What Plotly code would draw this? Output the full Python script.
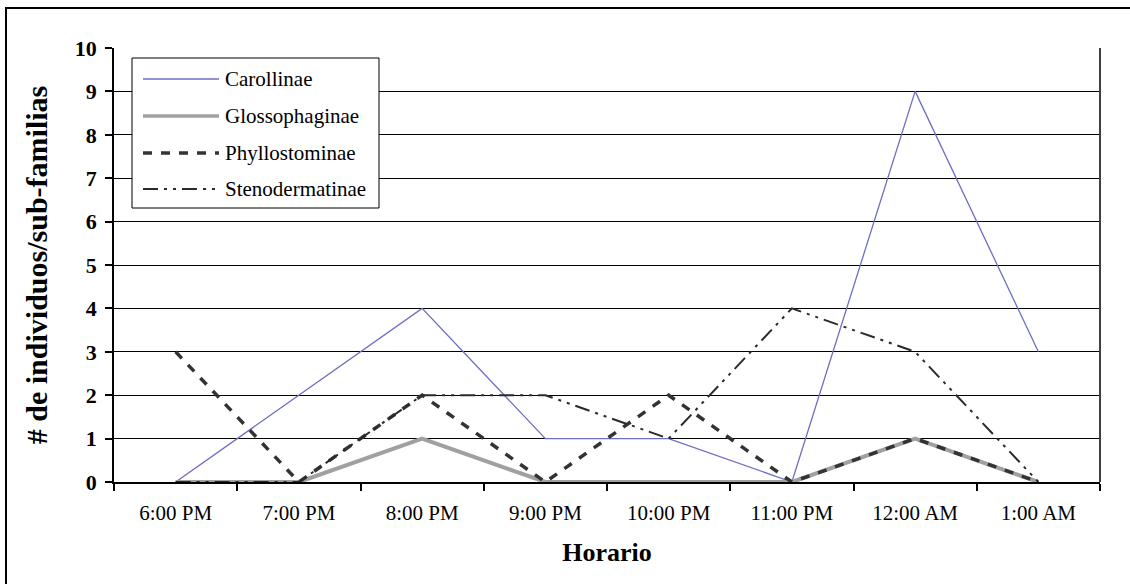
import plotly.graph_objects as go

# Hourly captures per sub-family
horario = ["6:00 PM", "7:00 PM", "8:00 PM", "9:00 PM", "10:00 PM", "11:00 PM", "12:00 AM", "1:00 AM"]
carollinae = [0, 2, 4, 1, 1, 0, 9, 3]
glossophaginae = [0, 0, 1, 0, 0, 0, 1, 0]
phyllostominae = [3, 0, 2, 0, 2, 0, 1, 0]
stenodermatinae = [0, 0, 2, 2, 1, 4, 3, 0]

series = [
    ("Carollinae", carollinae, dict(color="#6E6EC4", width=1.3, dash="solid")),
    ("Glossophaginae", glossophaginae, dict(color="#A0A0A0", width=4, dash="solid")),
    ("Phyllostominae", phyllostominae, dict(color="#333333", width=3.5, dash="9px,9px")),
    ("Stenodermatinae", stenodermatinae, dict(color="#2A2A2A", width=2, dash="15px,6px,3px,6px,3px,6px")),
]

SERIF = "Liberation Serif, serif"

fig = go.Figure()
for name, vals, line in series:
    fig.add_trace(go.Scatter(
        x=horario, y=vals, name=name, mode="lines",
        line=line, showlegend=False, hoverinfo="x+y+name",
    ))

# Plot area geometry in pixels (used to place the legend box in paper units)
W, H = 1130, 584
L, R, T, B = 114, 30, 48, 102
pw, ph = W - L - R, H - T - B


def px_x(x):
    return (x - L) / pw


def px_y(y):
    return (H - B - y) / ph


shapes = []
annotations = []

# Outer chart frame
shapes.append(dict(type="rect", xref="paper", yref="paper",
                   x0=px_x(6), x1=px_x(1140), y0=px_y(8), y1=px_y(600),
                   line=dict(color="#000000", width=2), fillcolor="rgba(0,0,0,0)", layer="below"))
# Right edge of the plot area
shapes.append(dict(type="line", xref="paper", yref="paper", x0=1, x1=1, y0=0, y1=1,
                   line=dict(color="#404040", width=2)))

# Legend box with sample lines
shapes.append(dict(type="rect", xref="paper", yref="paper",
                   x0=px_x(132), x1=px_x(379), y0=px_y(58), y1=px_y(208),
                   line=dict(color="#000000", width=1), fillcolor="#FFFFFF", layer="above"))
row_y = [79, 116, 153, 189]
for (name, _, line), ry in zip(series, row_y):
    shapes.append(dict(type="line", xref="paper", yref="paper",
                       x0=px_x(143), x1=px_x(219), y0=px_y(ry), y1=px_y(ry),
                       line=dict(color=line["color"], width=min(line["width"], 3.5), dash=line["dash"]),
                       layer="above"))
    annotations.append(dict(xref="paper", yref="paper", x=px_x(223), y=px_y(ry),
                            text=name, showarrow=False, xanchor="left", yanchor="middle",
                            font=dict(family=SERIF, size=21, color="#000000")))

fig.update_layout(
    width=W, height=H,
    margin=dict(l=L, r=R, t=T, b=B, autoexpand=False),
    paper_bgcolor="#FFFFFF", plot_bgcolor="#FFFFFF",
    showlegend=False,
    shapes=shapes, annotations=annotations,
    font=dict(family=SERIF, color="#000000"),
    xaxis=dict(
        type="category", range=[-0.5, 7.5], tickson="boundaries",
        ticks="outside", ticklen=7, tickcolor="#000000", tickwidth=1.5,
        showline=True, linecolor="#000000", linewidth=1.5,
        showgrid=False, zeroline=False, ticklabelstandoff=11,
        tickfont=dict(family=SERIF, size=21, color="#000000"),
        title=dict(text="<b>Horario</b>", font=dict(family=SERIF, size=26, color="#000000"), standoff=19),
    ),
    yaxis=dict(
        range=[0, 10], dtick=1, tick0=0,
        ticks="outside", ticklen=7, tickcolor="#000000", tickwidth=1.5,
        showline=True, linecolor="#000000", linewidth=1.5,
        showgrid=True, gridcolor="#000000", gridwidth=1.3, zeroline=False,
        ticklabelstandoff=4,
        tickfont=dict(family=SERIF, size=22, color="#000000"),
        tickprefix="<b>", ticksuffix="</b>",
        title=dict(text="<b># de individuos/sub-familias</b>", font=dict(family=SERIF, size=30, color="#000000"), standoff=18),
    ),
)

fig.write_html("out.html")
